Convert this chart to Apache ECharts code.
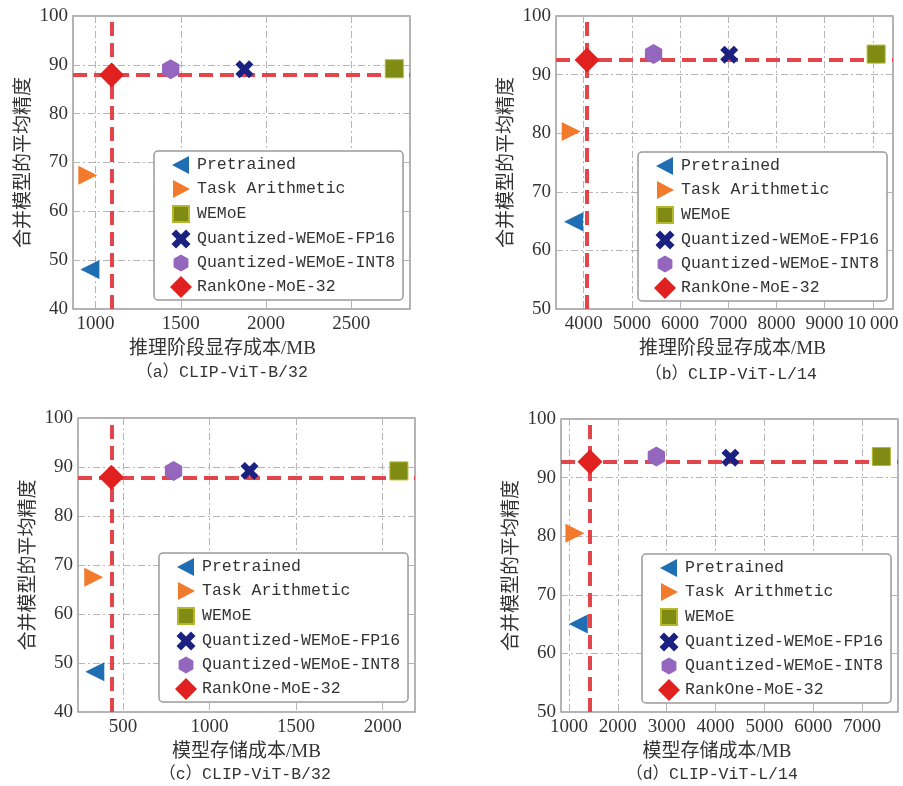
<!DOCTYPE html>
<html><head><meta charset="utf-8">
<script src="https://cdn.jsdelivr.net/npm/echarts@6/dist/echarts.min.js"></script>
<style>html,body{margin:0;padding:0;background:#fff}#c{width:903px;height:786px}</style>
</head><body><div id="c"></div>
<script>
// ---- data ----
const methods = ['Pretrained','Task Arithmetic','WEMoE','Quantized-WEMoE-FP16','Quantized-WEMoE-INT8','RankOne-MoE-32'];
// (a) CLIP-ViT-B/32, inference memory (MB)
const xA = [967, 955, 2752, 1873, 1441, 1094];
const yA = [48.1, 67.4, 89.2, 89.1, 89.1, 87.9];
// (b) CLIP-ViT-L/14, inference memory (MB)
const xB = [3790, 3740, 10070, 7020, 5450, 4070];
const yB = [64.9, 80.3, 93.5, 93.4, 93.5, 92.5];
// (c) CLIP-ViT-B/32, storage (MB)
const xC = [337, 331, 2094, 1231, 792, 433];
const yC = [48.2, 67.5, 89.2, 89.2, 89.2, 87.9];
// (d) CLIP-ViT-L/14, storage (MB)
const xD = [1190, 1122, 7394, 4306, 2789, 1430];
const yD = [65.0, 80.5, 93.6, 93.4, 93.6, 92.7];

const panelTitles = ['（a）CLIP-ViT-B/32','（b）CLIP-ViT-L/14','（c）CLIP-ViT-B/32','（d）CLIP-ViT-L/14'];
const xTitles = ['推理阶段显存成本/MB','推理阶段显存成本/MB','模型存储成本/MB','模型存储成本/MB'];
const yTitle = '合并模型的平均精度';
const xRanges = [[868, 2844], [3425, 10420], [240, 2187], [837, 7735]];
const yRanges = [[40, 100], [50, 100], [40, 100], [50, 100]];
const xSteps = [500, 1000, 500, 1000];
const ySteps = [10, 10, 10, 10];

// ---- styles ----
const colors = ['#1f6db3', '#f27a2c', '#7f8b12', '#1b2180', '#9466bd', '#e0211f'];
const symbols = [
  'path://M0,5L10,0L10,10Z',
  'path://M10,5L0,0L0,10Z',
  'rect',
  'path://M0,2.4L2.4,0L5,2.6L7.6,0L10,2.4L7.4,5L10,7.6L7.6,10L5,7.4L2.4,10L0,7.6L2.6,5Z',
  'path://M5,0L9.33,2.5L9.33,7.5L5,10L0.67,7.5L0.67,2.5Z',
  'diamond'
];
const sizes = [19, 19, 18, 18, 20, 25];
// legend icons (22x22 box, smaller shapes padded inside)
const legendIcons = [
  'path://M0,0M22,22M2,11L19,2L19,20Z',
  'path://M0,0M22,22M20,11L3,2L3,20Z',
  'path://M0,0M22,22M3,3L19,3L19,19L3,19Z',
  'path://M0,0M22,22M1.5,6L6,1.5L11,6.5L16,1.5L20.5,6L15.5,11L20.5,16L16,20.5L11,15.5L6,20.5L1.5,16L6.5,11Z',
  'path://M0,0M22,22M11,2.5L18.4,6.75L18.4,15.25L11,19.5L3.6,15.25L3.6,6.75Z',
  'diamond'
];
const grids = [
  {left: 73, top: 16, width: 337, height: 293},
  {left: 556, top: 16, width: 337, height: 293},
  {left: 78, top: 418, width: 337, height: 294},
  {left: 561, top: 419, width: 337, height: 293}
];
const legendPos = [[154, 151], [638, 152], [159, 553], [642, 554]];
const xNamePad = [[0, 38, 0, 0], [0, 0, 0, 16], [0, 0, 0, 0], [0, 25, 0, 0]];
const subPos = [[222, 373], [731, 375], [245, 775], [712, 775]];

const XS = [xA, xB, xC, xD], YS = [yA, yB, yC, yD];
const tickFont = 'Liberation Serif';
const cjkFont = "'Liberation Serif','Noto Sans CJK SC'";

const fmt = v => v >= 10000 ? String(v).replace(/\B(?=(\d{3})+(?!\d))/g, '\u2009') : String(v);

const option = {
  animation: false,
  backgroundColor: '#fff',
  grid: grids.map(g => Object.assign({show: true, borderColor: '#9a9a9a', borderWidth: 1.5}, g)),
  xAxis: grids.map((g, p) => ({
    type: 'value', gridIndex: p, min: xRanges[p][0], max: xRanges[p][1],
    splitNumber: Math.round((xRanges[p][1] - xRanges[p][0]) / xSteps[p]),
    minInterval: xSteps[p], maxInterval: xSteps[p],
    axisLine: {show: false}, axisTick: {show: false},
    axisLabel: {showMinLabel: false, showMaxLabel: false, color: '#333', fontFamily: tickFont, fontSize: 19, margin: 6, formatter: fmt},
    splitLine: {show: true, lineStyle: {color: '#b5b5b5', width: 1, type: [7, 3, 2, 3]}},
    name: xTitles[p], nameLocation: 'middle', nameGap: 31,
    nameTextStyle: {color: '#333', fontFamily: cjkFont, fontSize: 19, padding: xNamePad[p]}
  })),
  yAxis: grids.map((g, p) => ({
    type: 'value', gridIndex: p, min: yRanges[p][0], max: yRanges[p][1], interval: ySteps[p],
    axisLine: {show: false}, axisTick: {show: false},
    axisLabel: {color: '#333', fontFamily: tickFont, fontSize: 19, margin: 5},
    splitLine: {show: true, lineStyle: {color: '#b5b5b5', width: 1, type: [7, 3, 2, 3]}},
    name: yTitle, nameLocation: 'middle', nameRotate: 90, nameGap: 39,
    nameTextStyle: {color: '#333', fontFamily: cjkFont, fontSize: 19}
  })),
  legend: legendPos.map(([l, t]) => ({
    orient: 'vertical', left: l, top: t, padding: [3, 8, 2, 15],
    itemWidth: 22, itemHeight: 22, itemGap: 2,
    backgroundColor: '#fff', borderColor: '#9a9a9a', borderWidth: 1.5, borderRadius: 4,
    selectedMode: false,
    textStyle: {fontFamily: 'Liberation Mono', fontSize: 16.5, color: '#333'},
    data: methods.map((m, i) => ({name: m, icon: legendIcons[i]}))
  })),
  graphic: panelTitles.map((t, p) => ({
    type: 'text', x: subPos[p][0], y: subPos[p][1],
    style: {text: t, fill: '#333', font: "16.5px 'Liberation Mono','Noto Sans CJK SC'", textAlign: 'center', textVerticalAlign: 'middle'}
  })),
  series: []
};

for (let p = 0; p < 4; p++) {
  // reference dashed lines through RankOne-MoE-32
  option.series.push({
    type: 'scatter', name: 'ref' + p, xAxisIndex: p, yAxisIndex: p, z: 1,
    symbolSize: 0, data: [[XS[p][5], YS[p][5]]], silent: true,
    markLine: {
      z: 1, silent: true, symbol: 'none', label: {show: false}, animation: false,
      lineStyle: {color: '#e3454b', width: 4, type: [14, 7], opacity: 1},
      emphasis: {disabled: true},
      data: [{xAxis: XS[p][5]}, {yAxis: YS[p][5]}]
    }
  });
  for (let i = 0; i < methods.length; i++) {
    option.series.push({
      type: 'scatter', name: methods[i], xAxisIndex: p, yAxisIndex: p, z: 3,
      symbol: symbols[i], symbolSize: sizes[i], symbolKeepAspect: true,
      itemStyle: i === 2 ? {color: colors[i], opacity: 1, borderColor: '#b4b82a', borderWidth: 1} : {color: colors[i], opacity: 1},
      emphasis: {disabled: true},
      data: [[XS[p][i], YS[p][i]]]
    });
  }
}

const chart = echarts.init(document.getElementById('c'), null, {renderer: 'canvas'});
chart.setOption(option);
</script>
</body></html>
